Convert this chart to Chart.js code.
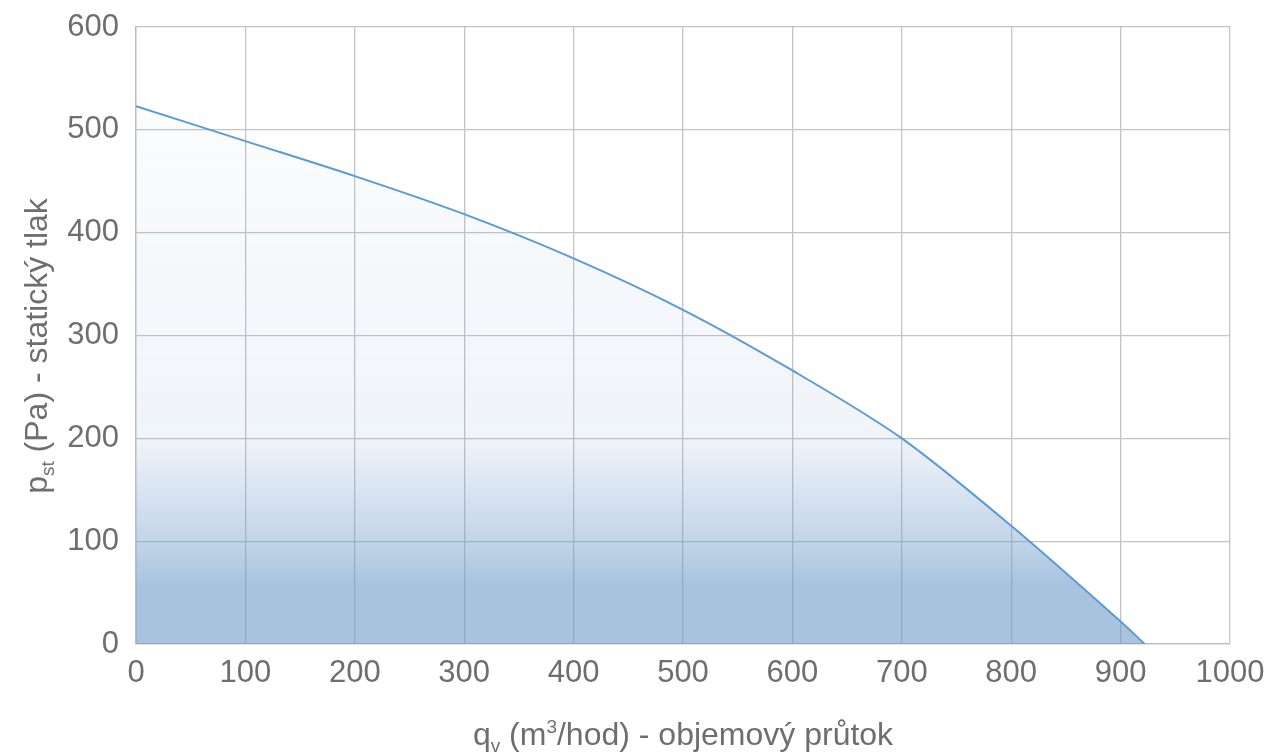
<!DOCTYPE html>
<html>
<head>
<meta charset="utf-8">
<script src="https://cdn.jsdelivr.net/npm/chart.js@4"></script>
<style>
  html, body { margin: 0; padding: 0; background: #ffffff; }
  #wrap { width: 1267px; height: 755px; position: relative; }
</style>
</head>
<body>
<div id="wrap"><canvas id="c"></canvas></div>
<script>
// ---- data ----
const flowValues = [0, 100, 200, 300, 400, 500, 600, 700, 800, 900, 922];
const pressureValues = [523, 489, 455, 418, 375, 325, 266, 200, 115, 22, 0];
const xTickValues = [0, 100, 200, 300, 400, 500, 600, 700, 800, 900, 1000];
const yTickValues = [0, 100, 200, 300, 400, 500, 600];
const xTitleParts = [
  { text: 'q', kind: 'normal' },
  { text: 'v', kind: 'sub' },
  { text: ' (m', kind: 'normal' },
  { text: '3', kind: 'sup' },
  { text: '/hod) - objemový průtok', kind: 'normal' }
];
const yTitleParts = [
  { text: 'p', kind: 'normal' },
  { text: 'st', kind: 'sub' },
  { text: ' (Pa) - statický tlak', kind: 'normal' }
];

const FONT = '"Liberation Sans", Arial, sans-serif';
const TEXT_COLOR = '#6e6e6e';
const GRID_COLOR = '#c4c4c4';

const points = flowValues.map((x, i) => ({ x: x, y: pressureValues[i] }));

function drawRuns(ctx, parts, cx, baseline) {
  const sizes = { normal: 32, sub: 19, sup: 19 };
  const dys = { normal: 0, sub: 7, sup: -12 };
  let total = 0;
  const widths = parts.map(p => {
    ctx.font = sizes[p.kind] + 'px ' + FONT;
    const w = ctx.measureText(p.text).width;
    total += w;
    return w;
  });
  let x = cx - total / 2;
  parts.forEach((p, i) => {
    ctx.font = sizes[p.kind] + 'px ' + FONT;
    ctx.fillText(p.text, x, baseline + dys[p.kind]);
    x += widths[i];
  });
}

const titlePlugin = {
  id: 'titles',
  afterDraw(chart) {
    const ctx = chart.ctx;
    const area = chart.chartArea;
    ctx.save();
    ctx.fillStyle = TEXT_COLOR;
    ctx.textBaseline = 'alphabetic';
    ctx.textAlign = 'left';
    drawRuns(ctx, xTitleParts, (area.left + area.right) / 2, 745);
    ctx.translate(47, 346);
    ctx.rotate(-Math.PI / 2);
    drawRuns(ctx, yTitleParts, 0, 0);
    ctx.restore();
  }
};

function fillGradient(context) {
  const chart = context.chart;
  const area = chart.chartArea;
  if (!area) return 'rgba(109,153,201,0.3)';
  const g = chart.ctx.createLinearGradient(0, area.top, 0, area.bottom);
  g.addColorStop(0, 'rgba(109,153,201,0.02)');
  g.addColorStop(0.13, 'rgba(109,153,201,0.03)');
  g.addColorStop(0.666, 'rgba(109,153,201,0.10)');
  g.addColorStop(0.831, 'rgba(109,153,201,0.41)');
  g.addColorStop(0.904, 'rgba(109,153,201,0.59)');
  g.addColorStop(1, 'rgba(109,153,201,0.59)');
  return g;
}

new Chart(document.getElementById('c'), {
  type: 'line',
  data: {
    datasets: [{
      data: points,
      borderColor: '#5b9bd5',
      borderWidth: 2,
      pointRadius: 0,
      tension: 0.3,
      fill: 'origin',
      backgroundColor: fillGradient
    }]
  },
  options: {
    responsive: true,
    maintainAspectRatio: false,
    animation: false,
    layout: { padding: { top: 27, right: 37, left: 0, bottom: 0 } },
    plugins: { legend: { display: false }, tooltip: { enabled: false } },
    scales: {
      x: {
        type: 'linear',
        min: 0, max: 1000,
        afterBuildTicks: (scale) => { scale.ticks = xTickValues.map(v => ({ value: v })); },
        afterFit: (scale) => {
          scale.height = 111;
          scale.paddingLeft = 5; scale.paddingRight = 5;
        },
        ticks: {
          color: TEXT_COLOR,
          font: { family: FONT, size: 31 },
          padding: 11,
          maxRotation: 0,
          autoSkip: false,
          callback: (v) => String(v)
        },
        grid: { color: GRID_COLOR, lineWidth: 1.3, drawTicks: false },
        border: { color: '#bdbdbd', width: 1.3 }
      },
      y: {
        type: 'linear',
        min: 0, max: 600,
        afterBuildTicks: (scale) => { scale.ticks = yTickValues.map(v => ({ value: v })); },
        afterFit: (scale) => {
          scale.width = 136;
          scale.paddingTop = 5; scale.paddingBottom = 5;
        },
        ticks: {
          color: TEXT_COLOR,
          font: { family: FONT, size: 31 },
          padding: 17,
          callback: (v) => String(v)
        },
        grid: { color: GRID_COLOR, lineWidth: 1.3, drawTicks: false },
        border: { color: '#bdbdbd', width: 1.3 }
      }
    }
  },
  plugins: [titlePlugin]
});
</script>
</body>
</html>
